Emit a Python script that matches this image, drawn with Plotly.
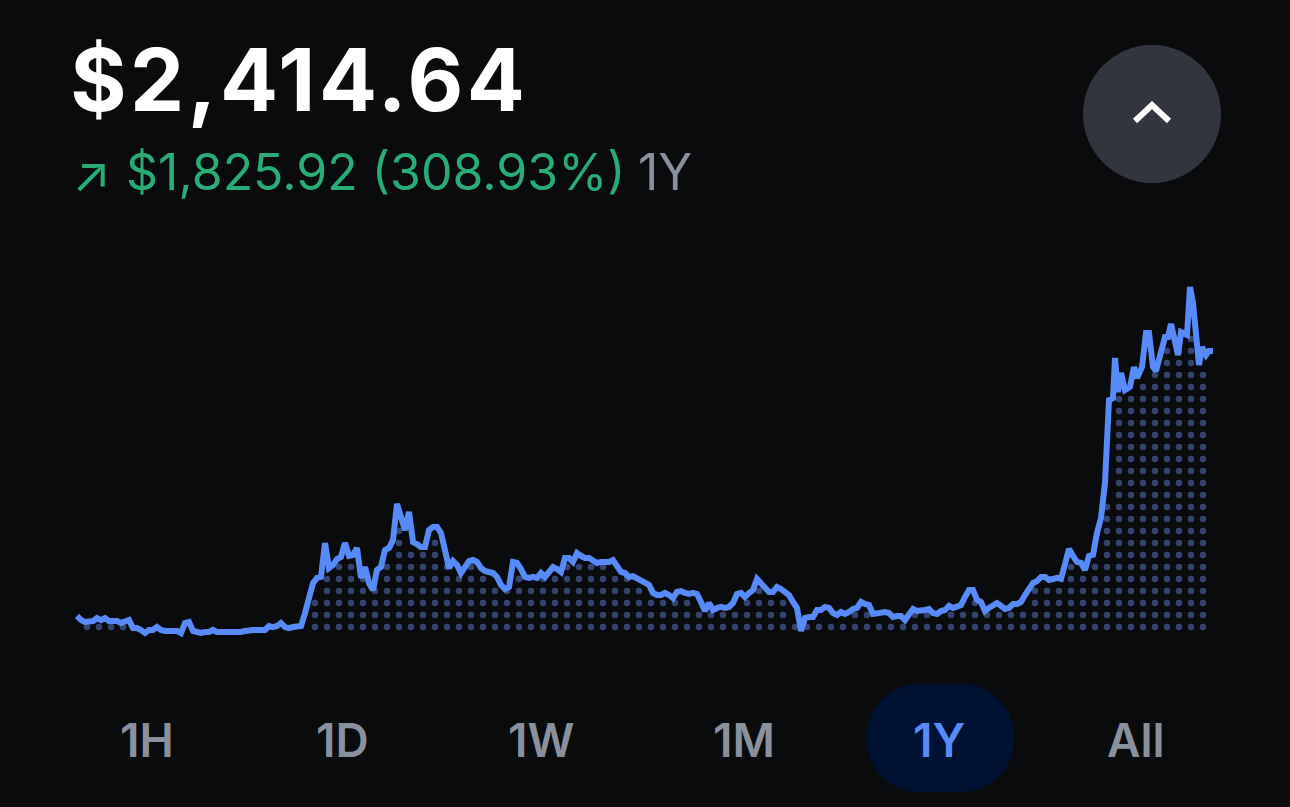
import numpy as np
import plotly.graph_objects as go

W, H = 1290, 807

# one year of prices
head_prices = [
    596, 568, 555, 555, 561, 582, 568, 582, 561, 561, 561, 548, 555, 568, 513, 513, 500, 479, 500, 500,
    520, 500, 493, 493, 500, 493, 479, 548, 555, 493, 486, 479, 486, 486, 500, 486, 486, 486, 486, 486,
    479, 486, 493, 500, 500, 500, 500, 500, 527, 520, 527, 548, 520, 513, 520, 527, 527, 616, 706, 822,
    857, 864, 1097, 925, 946, 987, 1001, 1097, 1008, 1015, 1063, 857, 932, 822, 774, 912, 932, 1049, 1063, 1117,
    1365, 1289, 1186, 1310, 1104, 1090, 1069, 1069, 1186, 1207, 1207, 1166, 1063, 925, 973, 946, 891, 932, 973, 980,
    967, 925, 905, 898, 891, 864, 809, 781, 795, 967, 960, 918, 864, 857, 864, 857, 891, 864, 891, 932,
    918, 898, 994, 994, 967, 1028, 1008, 994, 994, 973, 960, 967, 967, 967, 980, 946, 898, 891, 864, 870,
    857, 843, 829, 809, 754, 740, 740, 754, 740, 719, 761, 767, 754, 747, 754, 747, 692, 630, 685, 637,
    651, 658, 651, 658, 685, 747, 754, 726, 754, 774, 850, 822, 781, 761, 761, 795, 781, 754, 740, 692,
    651, 493, 582, 589, 589, 637, 637, 658, 651, 616, 603, 623, 610, 623, 644, 651, 692, 678, 671, 610,
    616, 623, 623, 616, 589, 596, 596, 568, 603, 644, 630, 630, 637, 644, 616, 610, 630, 637, 665, 651,
    658, 671, 726, 774, 774, 706, 692, 630, 651, 671, 685, 665, 644, 651, 678, 678, 692, 740, 774, 822,
    836, 864, 864, 843, 850, 857, 850, 960, 1056, 1008, 967, 960, 912, 1008, 1015, 1166, 1269, 1509,
]
tail_days = [258, 259, 259.5, 260.25, 261, 262, 263.25, 264.25, 265, 266.25, 267.25, 268, 269, 269.75, 270.75,
             272, 272.75, 273.5, 275.25, 276, 277.5, 278.25, 279, 280, 280.5, 281.25, 282.25, 283, 284]
tail_prices = [2078, 2092, 2367, 2133, 2264, 2147, 2168, 2305, 2229, 2305, 2538, 2538, 2305, 2278, 2367,
               2511, 2511, 2600, 2387, 2545, 2525, 2854, 2744, 2422, 2319, 2442, 2387, 2415, 2414.64]

days = list(range(len(head_prices))) + tail_days
prices = head_prices + tail_prices

price_text = "$2,414.64"
change_text = "$1,825.92 (308.93%)"
period_text = "1Y"
tabs = ["1H", "1D", "1W", "1M", "1Y", "All"]
tab_centers = [147, 342, 541, 744, 939, 1136]

BG = "#0a0b0d"
BLUE = "#578bfa"
GREEN = "#27ad75"
GREY = "#8a919e"
FONT = "Inter"

# dotted fill under the line, kept only where the line runs above the dot
dot_x, dot_y = [], []
for col in np.arange(2.5, 282, 3):
    top = np.interp([col - 1, col, col + 1], days, prices).min()
    for row in np.arange(520, 3000, 82.37):
        if row < top - 14:
            dot_x.append(col)
            dot_y.append(row)

fig = go.Figure()
fig.add_trace(go.Scatter(x=dot_x, y=dot_y, mode="markers", hoverinfo="skip",
                         marker=dict(size=6.5, color="#34456f", line=dict(width=0))))
fig.add_trace(go.Scatter(x=days, y=prices, mode="lines", line=dict(color=BLUE, width=6)))


def label(text, x, y, size, color, anchor="left", weight=400):
    fig.add_annotation(text=text, x=x / W, y=1 - y / H, xref="paper", yref="paper", xanchor=anchor,
                       yanchor="middle", showarrow=False,
                       font=dict(family=FONT, size=size, color=color, weight=weight))


def pill(x0, x1, y0, y1, r):
    # rounded box in paper coordinates, pixel numbers in
    k = r * 0.45
    pts = [
        ("M", x0 + r, y0), ("L", x1 - r, y0),
        ("C", x1 - k, y0, x1, y0 + k, x1, y0 + r), ("L", x1, y1 - r),
        ("C", x1, y1 - k, x1 - k, y1, x1 - r, y1), ("L", x0 + r, y1),
        ("C", x0 + k, y1, x0, y1 - k, x0, y1 - r), ("L", x0, y0 + r),
        ("C", x0, y0 + k, x0 + k, y0, x0 + r, y0),
    ]
    out = []
    for p in pts:
        nums = p[1:]
        coords = " ".join(f"{nums[i] / W:.5f},{1 - nums[i + 1] / H:.5f}" for i in range(0, len(nums), 2))
        out.append(f"{p[0]} {coords}")
    return " ".join(out) + " Z"


label(price_text, 299, 80, 86, "white", anchor="center", weight=700)
label("↗", 70, 173, 50, GREEN)
label(change_text, 124, 172, 50, GREEN)
label(period_text, 636, 172, 50, GREY)
for tab, cx in zip(tabs, tab_centers):
    label(tab, cx, 740, 46, BLUE if tab == "1Y" else GREY, anchor="center", weight=600)

fig.update_layout(
    width=W, height=H, autosize=False, showlegend=False,
    margin=dict(l=0, r=0, t=0, b=0),
    paper_bgcolor=BG, plot_bgcolor=BG,
    xaxis=dict(visible=False, range=[-19.25, 303.25]),
    yaxis=dict(visible=False, range=[-715.2, 4824]),
    shapes=[
        dict(type="circle", xref="paper", yref="paper", layer="below", fillcolor="#32353d", line_width=0,
             x0=1083 / W, x1=1221 / W, y0=1 - 183 / H, y1=1 - 45 / H),
        dict(type="path", xref="paper", yref="paper", line=dict(color="white", width=6),
             path=f"M {1135/W} {1-121/H} L {1152/W} {1-105/H} L {1169/W} {1-121/H}"),
        dict(type="path", xref="paper", yref="paper", layer="below", fillcolor="#001233", line_width=0,
             path=pill(867, 1014, 684, 792, 52)),
    ],
)

# the big price is set wider than any installed font, open it up a little
post = """document.body.style.margin='0';document.body.style.background='#0a0b0d';
document.querySelector('.annotation-text').style.letterSpacing='3.5px';"""
fig.write_html("out.html", config={"displayModeBar": False}, post_script=post)
